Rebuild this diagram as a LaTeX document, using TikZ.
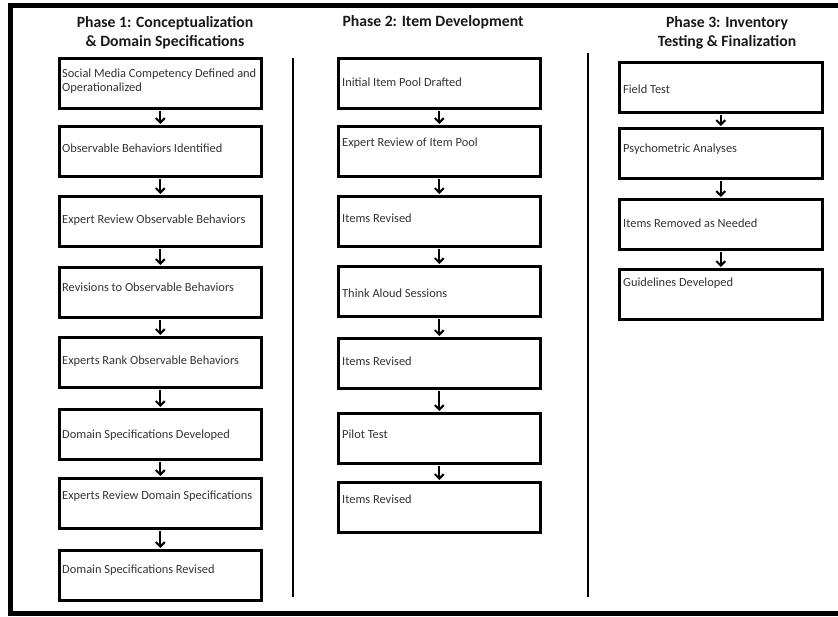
\documentclass[tikz,border=0pt]{standalone}
\usepackage{fontspec}
\setmainfont{Carlito}
\usetikzlibrary{arrows.meta}
\definecolor{txtgray}{HTML}{333333}
\begin{document}
\begin{tikzpicture}[x=1pt,y=-1pt,
  stepbox/.style={draw=black, line width=2.6pt, minimum width=202pt, minimum height=50pt, inner sep=0pt, anchor=north west},
  boxtext/.style={anchor=west, inner sep=0pt, text=txtgray, font=\fontsize{12.4}{14.2}\selectfont, align=left},
  phasetitle/.style={inner sep=0pt, align=center, text=black!90, font=\fontsize{15.7}{19.5}\selectfont\bfseries},
  flow/.style={line width=2pt, -{Straight Barb[length=4.5pt,width=9pt,line width=2pt]}, shorten <=1pt, shorten >=1pt},
  divider/.style={line width=2.5pt}
]
\useasboundingbox (0,0) rectangle (838,616);
% outer frame (right side lies beyond the picture)
\draw[line width=4.6pt] (860,5.7) -- (10.5,5.7) -- (10.5,613.5) -- (860,613.5);
% dividers
\draw[divider] (293,58) -- (293,597);
\draw[divider] (588,53) -- (588,597);

% titles
\node[phasetitle] (t1) at (165,32.5) {Phase 1: Conceptualization\\\& Domain Specifications};
\node[phasetitle] (t2) at (433,22.7) {Phase 2: Item Development};
\node[phasetitle] (t3) at (727,33) {Phase 3: Inventory\\Testing \& Finalization};

% Phase 1
\node[stepbox] (a1) at (58,57) {};
\node[stepbox] (a2) at (58,125) {};
\node[stepbox] (a3) at (58,195) {};
\node[stepbox] (a4) at (58,266) {};
\node[stepbox] (a5) at (58,336) {};
\node[stepbox] (a6) at (58,408) {};
\node[stepbox] (a7) at (58,477) {};
\node[stepbox] (a8) at (58,549) {};
\node[boxtext] (ta1) at (62,81) {Social Media Competency Defined and\\Operationalized};
\node[boxtext] (ta2) at (62,148) {Observable Behaviors Identified};
\node[boxtext] (ta3) at (62,220) {Expert Review Observable Behaviors};
\node[boxtext] (ta4) at (62,287) {Revisions to Observable Behaviors};
\node[boxtext] (ta5) at (62,361) {Experts Rank Observable Behaviors};
\node[boxtext] (ta6) at (62,435) {Domain Specifications Developed};
\node[boxtext] (ta7) at (62,496) {Experts Review Domain Specifications};
\node[boxtext] (ta8) at (62,570) {Domain Specifications Revised};
\foreach \u/\v in {a1/a2,a2/a3,a3/a4,a4/a5,a5/a6,a6/a7,a7/a8}
  \draw[flow] (\u.south) -- (\v.north);

% Phase 2
\node[stepbox] (b1) at (337,57) {};
\node[stepbox] (b2) at (337,125) {};
\node[stepbox] (b3) at (337,195) {};
\node[stepbox] (b4) at (337,265) {};
\node[stepbox] (b5) at (337,337) {};
\node[stepbox] (b6) at (337,412) {};
\node[stepbox] (b7) at (337,481) {};
\node[boxtext] (tb1) at (342,82) {Initial Item Pool Drafted};
\node[boxtext] (tb2) at (342,143) {Expert Review of Item Pool};
\node[boxtext] (tb3) at (342,218) {Items Revised};
\node[boxtext] (tb4) at (342,293) {Think Aloud Sessions};
\node[boxtext] (tb5) at (342,361) {Items Revised};
\node[boxtext] (tb6) at (342,434) {Pilot Test};
\node[boxtext] (tb7) at (342,499) {Items Revised};
\foreach \u/\v in {b1/b2,b2/b3,b3/b4,b4/b5,b5/b6,b6/b7}
  \draw[flow] (\u.south) -- (\v.north);

% Phase 3
\node[stepbox, minimum width=203pt] (c1) at (618,61) {};
\node[stepbox, minimum width=203pt] (c2) at (618,127) {};
\node[stepbox, minimum width=203pt] (c3) at (618,198) {};
\node[stepbox, minimum width=203pt] (c4) at (618,268) {};
\node[boxtext] (tc1) at (623,89) {Field Test};
\node[boxtext] (tc2) at (623,149) {Psychometric Analyses};
\node[boxtext] (tc3) at (623,223) {Items Removed as Needed};
\node[boxtext] (tc4) at (623,283) {Guidelines Developed};
\foreach \u/\v in {c1/c2,c2/c3,c3/c4}
  \draw[flow] (\u.south) -- (\v.north);
\end{tikzpicture}
\end{document}
